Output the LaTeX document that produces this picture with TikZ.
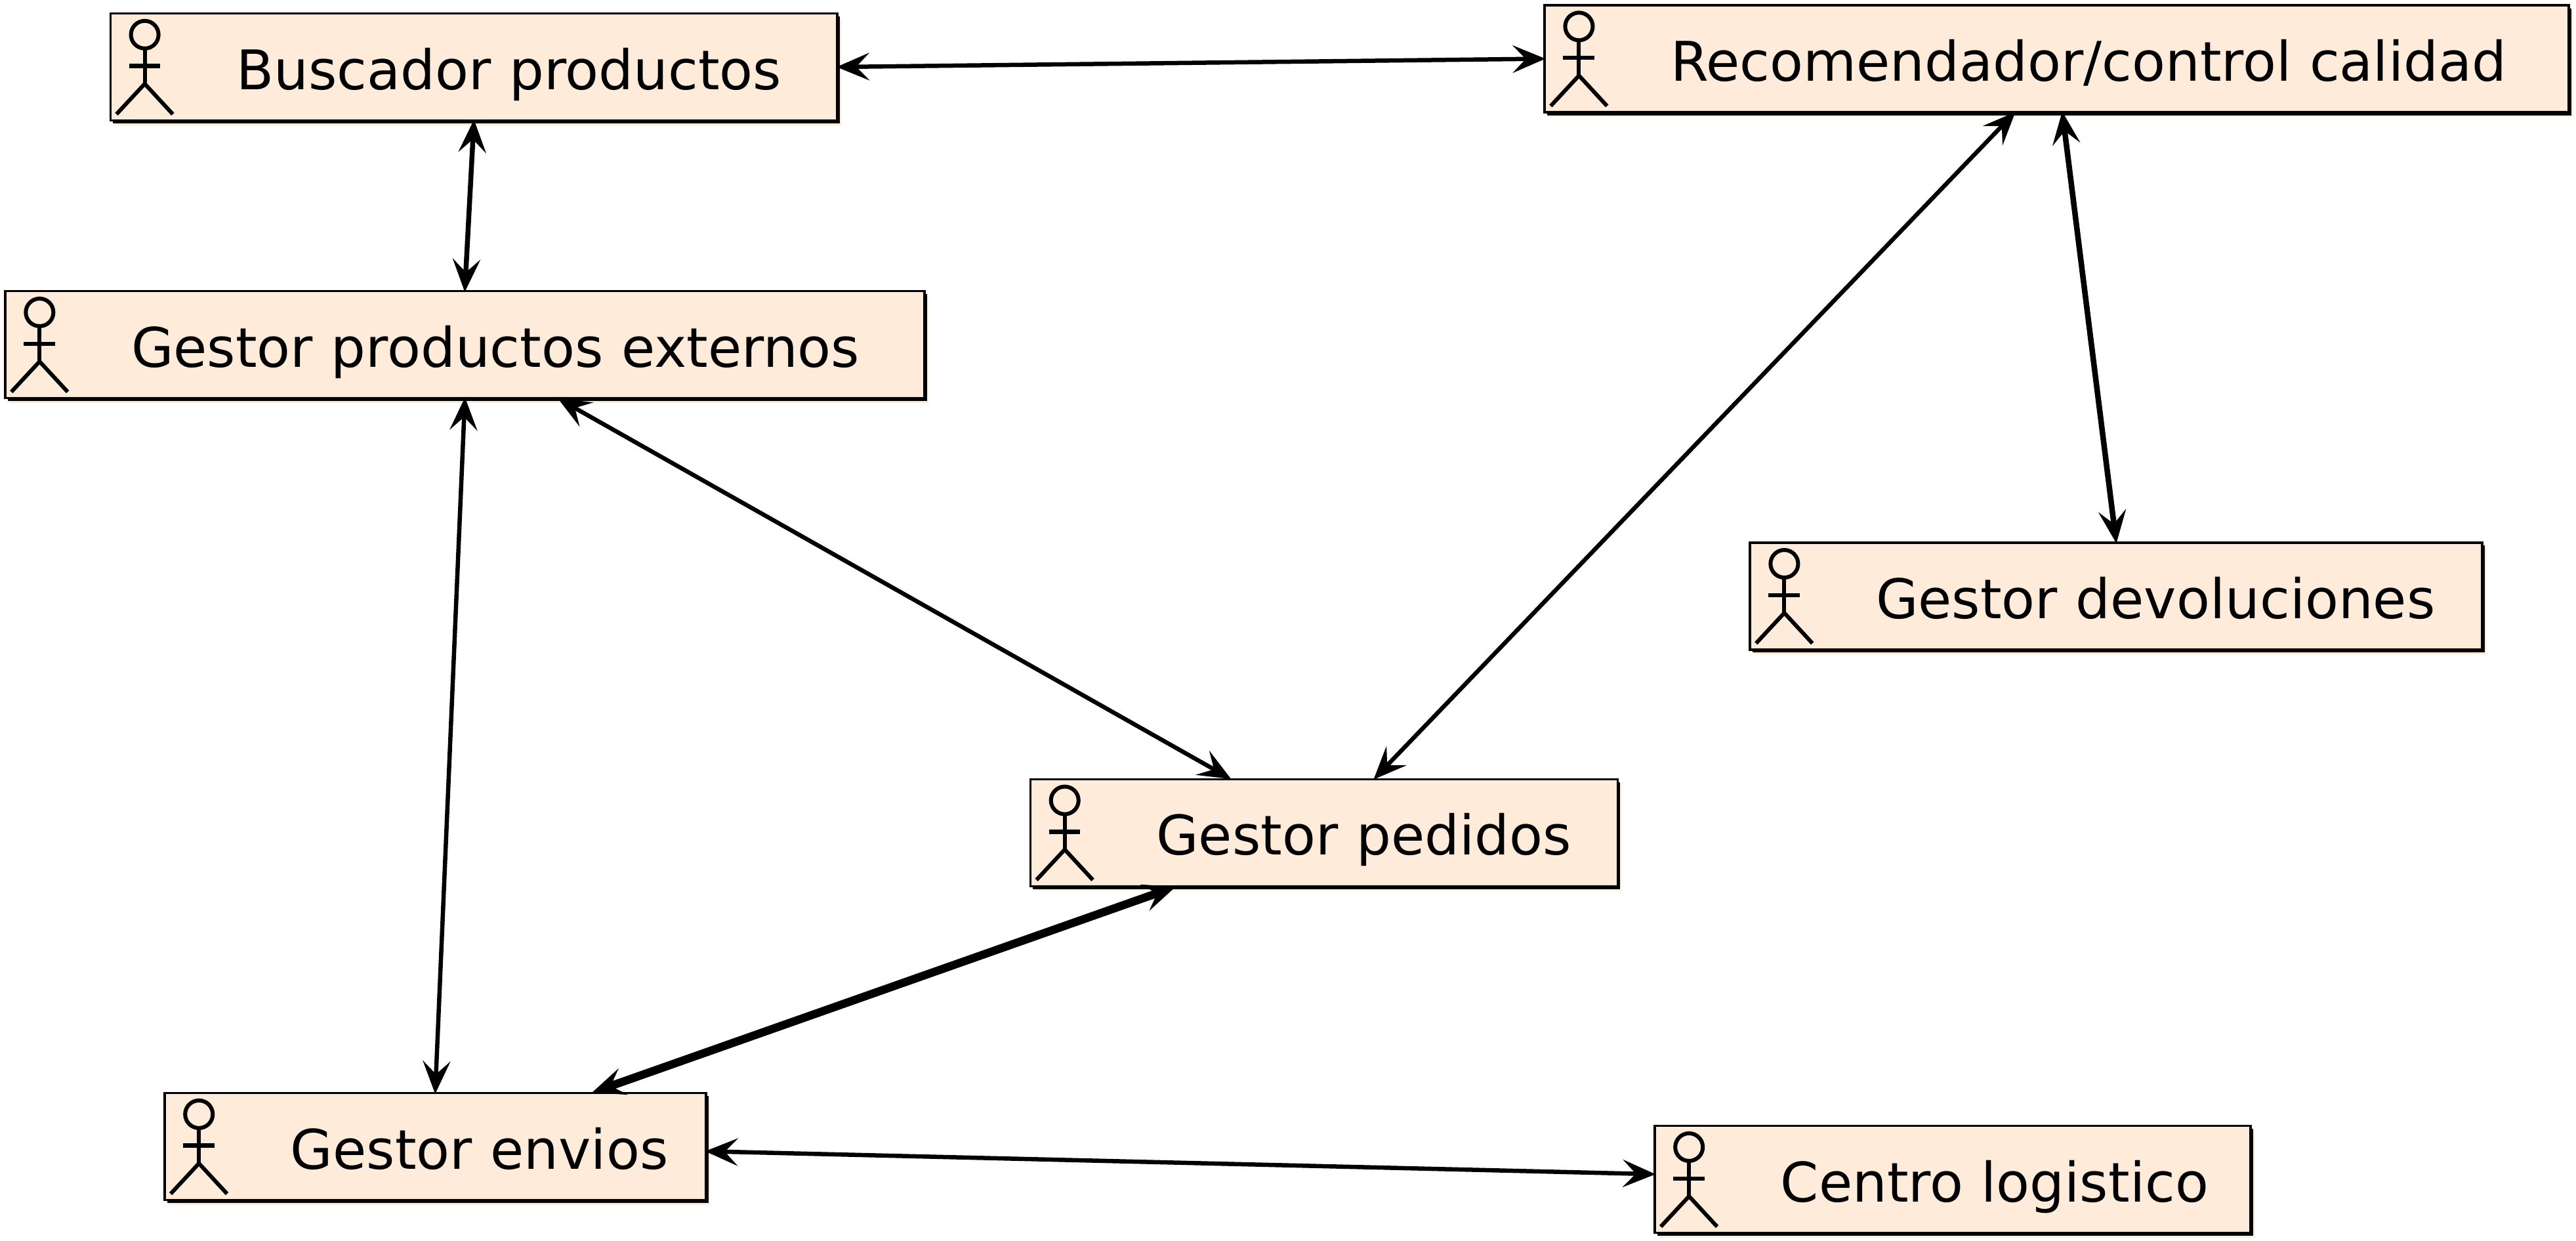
\documentclass[tikz,border=0pt]{standalone}
\usepackage{fontspec}
\setmainfont{DejaVu Sans}
\usetikzlibrary{arrows.meta,shadows}
\definecolor{boxfill}{HTML}{FEEBD9}
\tikzstyle{actorbox} = [anchor=north west, draw, line width=0.35mm, fill=boxfill, font=\fontsize{23.7}{30}\selectfont, minimum height=1.63cm, text height=0.78cm, text depth=0.1cm, inner ysep=0pt, inner xsep=0pt, align=left, execute at begin node={\hspace*{1.92cm}}, general shadow={shadow xshift=0.06cm, shadow yshift=-0.07cm, fill=boxfill}, drop shadow={shadow xshift=0.04cm, shadow yshift=-0.045cm, fill=black, opacity=1}]
\tikzstyle{link} = [{Stealth[length=0.5cm,width=0.42cm,inset=0.2cm]}-{Stealth[length=0.5cm,width=0.42cm,inset=0.2cm]}, line width=0.65mm, shorten <=-0.03cm, shorten >=-0.03cm]
\tikzset{actor/.pic={
    \draw[line width=0.6mm] (21.6,13.6) circle [radius=8.4];
    \draw[line width=0.6mm] (21.6,23) -- (21.6,43.5);
    \draw[line width=0.65mm] (12,32.7) -- (31,32.7);
    \draw[line width=0.6mm] (4.4,62) -- (21.6,43.5) -- (38.7,62);
}}

\begin{document}
\begin{tikzpicture}[x=0.02504cm, y=-0.02504cm]
    \useasboundingbox (0,0) rectangle (1568,755.2);
    \node[actorbox, text width=11.08cm](buscador) at (66.5,7.5) {Buscador productos};
    \node[actorbox, text width=15.61cm](recomendador) at (939.5,2.5) {Recomendador/control calidad};
    \node[actorbox, text width=14.01cm](externos) at (2.5,176.5) {Gestor productos externos};
    \node[actorbox, text width=11.16cm](devoluciones) at (1064.5,329.5) {Gestor devoluciones};
    \node[actorbox, text width=8.95cm](pedidos) at (626.5,473.5) {Gestor pedidos};
    \node[actorbox, text width=8.25cm](envios) at (99.5,664.5) {Gestor envios};
    \node[actorbox, text width=9.08cm](logistico) at (1006.5,684.5) {Centro logistico};

    \foreach \n in {buscador,recomendador,externos,devoluciones,pedidos,envios,logistico}
        \pic at (\n.north west) {actor};

    \draw[link] (buscador.east) -- (recomendador.west);
    \draw[link, line width=0.75mm] (buscador.south) -- (externos.north);
    \draw[link] (recomendador.232) -- (pedidos.47);
    \draw[link, line width=0.85mm] (recomendador.-84) -- (devoluciones.north);
    \draw[link] (externos.-30) -- (pedidos.150);
    \draw[link] (externos.south) -- (envios.north);
    \draw[link, line width=1.25mm] (pedidos.200.5) -- (envios.19.5);
    \draw[link] (envios.-1) -- (logistico.179);
\end{tikzpicture}
\end{document}
